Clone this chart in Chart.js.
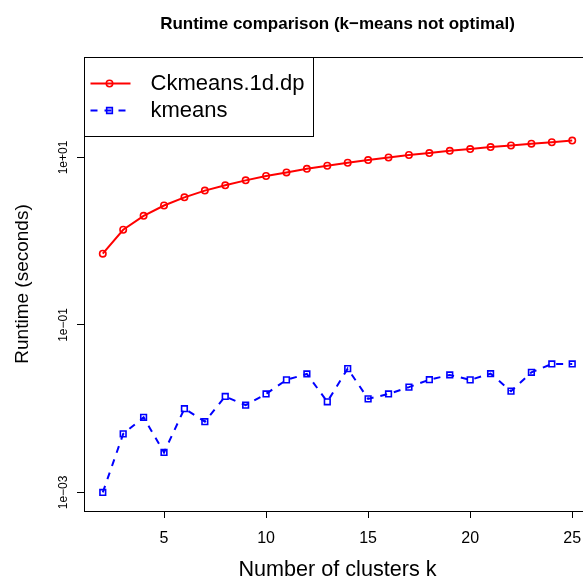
<!DOCTYPE html>
<html>
<head>
<meta charset="utf-8">
<script src="https://cdn.jsdelivr.net/npm/chart.js@4.4.1/dist/chart.umd.min.js"></script>
<style>
  html, body { margin: 0; padding: 0; background: #fff; overflow: hidden; }
  #wrap { width: 600px; height: 581px; }
</style>
</head>
<body>
<div id="wrap"><canvas id="main_chart" width="600" height="581"></canvas></div>
<script>
const clusters_k = [2, 3, 4, 5, 6, 7, 8, 9, 10, 11, 12, 13, 14, 15, 16, 17, 18, 19, 20, 21, 22, 23, 24, 25];

const ckmeans_runtime = [
  0.71, 1.37, 2.01, 2.67, 3.34, 4.02, 4.65, 5.33, 6.01, 6.63, 7.32, 7.97,
  8.65, 9.31, 10.0, 10.7, 11.3, 12.0, 12.6, 13.3, 13.9, 14.6, 15.2, 15.9,
];

const kmeans_runtime = [
  0.0010, 0.0050, 0.0079, 0.0030, 0.0100, 0.0070, 0.0140, 0.0110, 0.0150, 0.0221, 0.0260, 0.0121,
  0.0301, 0.0131, 0.0150, 0.0181, 0.0222, 0.0253, 0.0221, 0.0262, 0.0162, 0.0272, 0.0342, 0.0342,
];

const x_ticks = [5, 10, 15, 20, 25];
const y_ticks = [1e-3, 1e-1, 1e1];
const y_tick_labels = ['1e\u221203', '1e\u221201', '1e+01'];

const series_names = ['Ckmeans.1d.dp', 'kmeans'];

const font_family = '"Liberation Sans", Arial, Helvetica, sans-serif';

const to_points = (values) => clusters_k.map((k, i) => ({ x: k, y: values[i] }));

// box round the plot region, like R's bty="o"
const plot_box = {
  id: 'plot_box',
  afterDraw(chart) {
    const { ctx, chartArea: a } = chart;
    ctx.save();
    ctx.strokeStyle = '#000';
    ctx.lineWidth = 1;
    ctx.strokeRect(Math.round(a.left) + 0.5, Math.round(a.top) + 0.5,
      Math.round(a.right - a.left), Math.round(a.bottom - a.top));
    ctx.restore();
  }
};

// R style legend in the top left corner
const r_legend = {
  id: 'r_legend',
  afterDraw(chart) {
    const { ctx, chartArea: a } = chart;
    const left = Math.round(a.left) + 0.5;
    const top = Math.round(a.top) + 0.5;
    const w = 229, h = 79;
    ctx.save();
    ctx.fillStyle = '#fff';
    ctx.fillRect(left, top, w, h);
    ctx.strokeStyle = '#000';
    ctx.lineWidth = 1;
    ctx.strokeRect(left, top, w, h);

    chart.data.datasets.forEach((ds, i) => {
      const y = top + 26 + i * 27;
      ctx.save();
      ctx.strokeStyle = ds.borderColor;
      ctx.lineWidth = ds.borderWidth;
      ctx.setLineDash(ds.borderDash || []);
      ctx.beginPath();
      ctx.moveTo(left + 6, y);
      ctx.lineTo(left + 46, y);
      ctx.stroke();
      ctx.restore();

      ctx.save();
      ctx.strokeStyle = ds.pointBorderColor;
      ctx.fillStyle = ds.pointBackgroundColor;
      ctx.lineWidth = ds.pointBorderWidth;
      Chart.helpers.drawPoint(ctx, {
        pointStyle: ds.pointStyle,
        radius: ds.pointRadius,
        rotation: 0,
        borderWidth: ds.pointBorderWidth,
      }, left + 25, y);
      ctx.restore();

      ctx.fillStyle = '#000';
      ctx.font = '22px ' + font_family;
      ctx.textBaseline = 'middle';
      ctx.textAlign = 'left';
      ctx.fillText(series_names[i], left + 66, y);
    });
    ctx.restore();
  }
};

const data = {
  datasets: [
    {
      label: series_names[0],
      data: to_points(ckmeans_runtime),
      borderColor: '#ff0000',
      borderWidth: 2,
      pointStyle: 'circle',
      pointRadius: 3.2,
      pointBorderWidth: 1.6,
      pointBorderColor: '#ff0000',
      pointBackgroundColor: 'rgba(0,0,0,0)',
      tension: 0,
    },
    {
      label: series_names[1],
      data: to_points(kmeans_runtime),
      borderColor: '#0000ff',
      borderWidth: 2,
      borderDash: [7, 7],
      pointStyle: 'rect',
      pointRadius: 4,
      pointBorderWidth: 1.6,
      pointBorderColor: '#0000ff',
      pointBackgroundColor: 'rgba(0,0,0,0)',
      tension: 0,
    },
  ]
};

const options = {
  responsive: false,
  animation: false,
  devicePixelRatio: 1,
  layout: { padding: { left: 0, right: 9, top: 0, bottom: 0 } },
  plugins: {
    legend: { display: false },
    tooltip: { enabled: false },
    title: {
      display: true,
      fullSize: false,
      text: 'Runtime comparison (k\u2212means not optimal)',
      color: '#000',
      font: { family: font_family, size: 17, weight: 'bold', lineHeight: 1.2 },
      padding: { top: 14.5, bottom: 22.1 },
    },
  },
  scales: {
    x: {
      type: 'linear',
      min: 1.08,
      max: 25.92,
      afterBuildTicks: (scale) => { scale.ticks = x_ticks.map(v => ({ value: v })); },
      afterFit: (scale) => { scale.height = 70; },
      grid: { drawOnChartArea: false, drawTicks: true, tickLength: 7, color: '#000', tickWidth: 1 },
      border: { display: false },
      ticks: {
        color: '#000',
        font: { family: font_family, size: 16 },
        padding: 11,
        maxRotation: 0,
        autoSkip: false,
      },
      title: {
        display: true,
        text: 'Number of clusters k',
        color: '#000',
        font: { family: font_family, size: 21.6, lineHeight: 1 },
        padding: { top: 0, bottom: 0.2 },
      },
    },
    y: {
      type: 'logarithmic',
      min: Math.pow(10, -3.2),
      max: Math.pow(10, 2.2),
      afterBuildTicks: (scale) => { scale.ticks = y_ticks.map(v => ({ value: v })); },
      afterFit: (scale) => { scale.width = 84; },
      grid: { drawOnChartArea: false, drawTicks: true, tickLength: 7, color: '#000', tickWidth: 1 },
      border: { display: false },
      ticks: {
        color: '#000',
        font: { family: font_family, size: 12 },
        minRotation: 90,
        maxRotation: 90,
        crossAlign: 'center',
        padding: -3.5,
        autoSkip: false,
        callback: (value) => {
          const i = y_ticks.findIndex(t => Math.abs(Math.log10(t) - Math.log10(value)) < 1e-6);
          return i >= 0 ? y_tick_labels[i] : '';
        },
      },
      title: {
        display: true,
        text: 'Runtime (seconds)',
        color: '#000',
        font: { family: font_family, size: 19, lineHeight: 1 },
        padding: { top: 13, bottom: 0 },
      },
    },
  },
};

new Chart('main_chart', {
  type: 'line',
  data: data,
  options: options,
  plugins: [plot_box, r_legend],
});
</script>
</body>
</html>
